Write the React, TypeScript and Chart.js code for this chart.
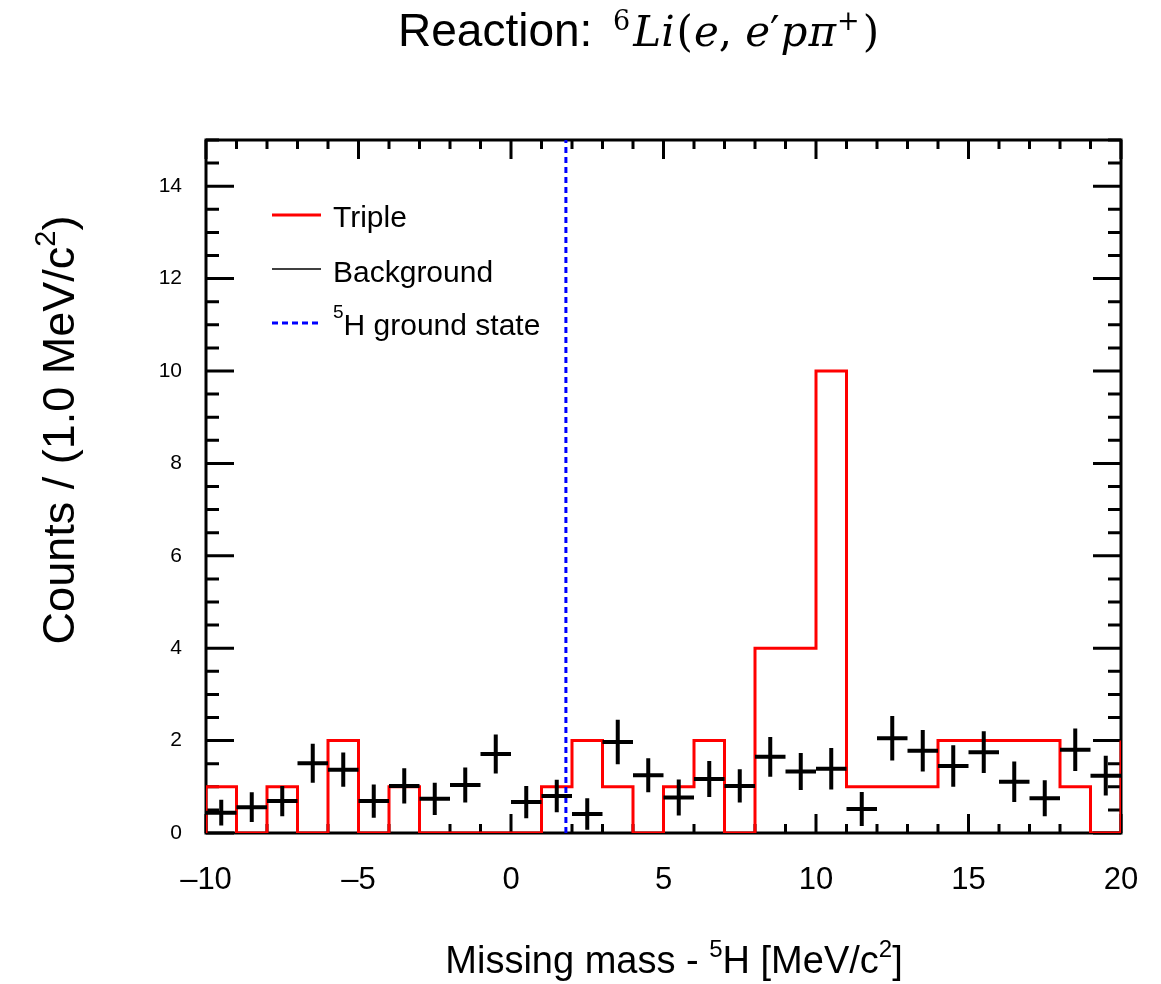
import React, { useEffect, useRef } from "react";
import { Chart, registerables } from "chart.js";

Chart.register(...registerables);

// ---------------- data ----------------
const binLowEdges = [
  -10, -9, -8, -7, -6, -5, -4, -3, -2, -1, 0, 1, 2, 3, 4, 5, 6, 7, 8, 9, 10, 11, 12, 13, 14, 15, 16, 17, 18, 19,
];
const binWidth = 1;
const tripleCounts = [
  1, 0, 1, 0, 2, 0, 1, 0, 0, 0, 0, 1, 2, 1, 0, 1, 2, 0, 4, 4, 10, 1, 1, 1, 2, 2, 2, 2, 1, 0,
];
const tripleOverflow = 2;

const bgCenters = [
  -9.5, -8.5, -7.5, -6.5, -5.5, -4.5, -3.5, -2.5, -1.5, -0.5, 0.5, 1.5, 2.5, 3.5, 4.5, 5.5, 6.5, 7.5, 8.5, 9.5,
  10.5, 11.5, 12.5, 13.5, 14.5, 15.5, 16.5, 17.5, 18.5, 19.5,
];
const bgValues = [
  0.44, 0.56, 0.69, 1.51, 1.37, 0.69, 1.02, 0.74, 1.04, 1.71, 0.67, 0.8, 0.41, 1.97, 1.25, 0.77, 1.17, 1.02, 1.65,
  1.33, 1.39, 0.52, 2.05, 1.78, 1.45, 1.75, 1.11, 0.75, 1.8, 1.24,
];
const bgErrors = [
  0.28, 0.32, 0.33, 0.42, 0.37, 0.36, 0.38, 0.35, 0.38, 0.42, 0.35, 0.35, 0.34, 0.48, 0.37, 0.39, 0.39, 0.36, 0.43,
  0.4, 0.45, 0.37, 0.48, 0.45, 0.45, 0.45, 0.44, 0.39, 0.46, 0.43,
];
const bgHalfWidth = 0.5;

const groundStateX = 1.8;

const xMin = -10;
const xMax = 20;
const yMin = 0;
const yMax = 15;
const xTickValues = [-10, -5, 0, 5, 10, 15, 20];
const xTickLabels = ["\u201310", "\u20135", "0", "5", "10", "15", "20"];
const yTickValues = [0, 2, 4, 6, 8, 10, 12, 14];
const yTickLabels = ["0", "2", "4", "6", "8", "10", "12", "14"];
const xMajorStep = 5;
const xMinorStep = 1;
const yMajorStep = 2;
const yMinorStep = 0.5;

const legendLabels = ["Triple", "Background", "H ground state"];

// ---------------- helpers ----------------
const SANS = "'Liberation Sans', Arial, Helvetica, sans-serif";
const MATH = "'DejaVu Serif', 'Liberation Serif', serif";

type Seg = { t: string; font: string; dy?: number; gap?: number };

function drawSegs(ctx: CanvasRenderingContext2D, segs: Seg[], x: number, y: number, align: "left" | "center") {
  let w = 0;
  for (const s of segs) {
    ctx.font = s.font;
    w += ctx.measureText(s.t).width + (s.gap || 0);
  }
  let cx = align === "center" ? x - w / 2 : x;
  ctx.textAlign = "left";
  ctx.textBaseline = "alphabetic";
  for (const s of segs) {
    ctx.font = s.font;
    ctx.fillText(s.t, cx, y + (s.dy || 0));
    cx += ctx.measureText(s.t).width + (s.gap || 0);
  }
}

const framePlugin = {
  id: "rootFrame",
  beforeDatasetsDraw(chart: any) {
    const ctx: CanvasRenderingContext2D = chart.ctx;
    const { left, right, top, bottom } = chart.chartArea;
    const xs = chart.scales.x;
    const ys = chart.scales.y;
    ctx.save();
    ctx.strokeStyle = "#000";
    ctx.lineWidth = 3;
    ctx.strokeRect(left, top, right - left, bottom - top);
    ctx.beginPath();
    for (let v = xMin; v <= xMax + 1e-9; v += xMinorStep) {
      const px = xs.getPixelForValue(v);
      const len = Math.abs(v % xMajorStep) < 1e-9 ? 19 : 9;
      ctx.moveTo(px, bottom);
      ctx.lineTo(px, bottom - len);
      ctx.moveTo(px, top);
      ctx.lineTo(px, top + len);
    }
    for (let v = yMin; v <= yMax + 1e-9; v += yMinorStep) {
      const py = ys.getPixelForValue(v);
      const len = Math.abs(v % yMajorStep) < 1e-9 ? 28 : 13;
      ctx.moveTo(left, py);
      ctx.lineTo(left + len, py);
      ctx.moveTo(right, py);
      ctx.lineTo(right - len, py);
    }
    ctx.stroke();
    ctx.restore();
  },
  afterDatasetsDraw(chart: any) {
    const ctx: CanvasRenderingContext2D = chart.ctx;
    const xs = chart.scales.x;
    const ys = chart.scales.y;
    ctx.save();
    ctx.strokeStyle = "#000";
    ctx.lineWidth = 4;
    ctx.lineCap = "butt";
    ctx.beginPath();
    bgCenters.forEach((c, i) => {
      const v = bgValues[i];
      const e = bgErrors[i];
      const py = ys.getPixelForValue(v);
      const px = xs.getPixelForValue(c);
      ctx.moveTo(xs.getPixelForValue(c - bgHalfWidth), py);
      ctx.lineTo(xs.getPixelForValue(c + bgHalfWidth), py);
      ctx.moveTo(px, ys.getPixelForValue(v - e));
      ctx.lineTo(px, ys.getPixelForValue(v + e));
    });
    ctx.stroke();
    ctx.restore();
  },
  afterDraw(chart: any) {
    const ctx: CanvasRenderingContext2D = chart.ctx;
    ctx.save();
    ctx.fillStyle = "#000";

    // Title
    const tf = `46px ${SANS}`;
    const mi = `italic 42px ${MATH}`;
    const mu = `42px ${MATH}`;
    const ms = `27px ${MATH}`;
    drawSegs(
      ctx,
      [
        { t: "Reaction: ", font: tf, gap: 8 },
        { t: "6", font: ms, dy: -16, gap: 3 },
        { t: "Li", font: mi, gap: 2 },
        { t: "(", font: mu, gap: 1 },
        { t: "e", font: mi },
        { t: ",", font: mu, gap: 13 },
        { t: "e", font: mi },
        { t: "\u2032", font: mu, gap: 1 },
        { t: "p", font: mi, gap: 1 },
        { t: "\u03C0", font: mi, gap: 1 },
        { t: "+", font: ms, dy: -16, gap: 3 },
        { t: ")", font: mu },
      ],
      398,
      46,
      "left"
    );

    // X axis title
    drawSegs(
      ctx,
      [
        { t: "Missing mass - ", font: `38px ${SANS}` },
        { t: "5", font: `24px ${SANS}`, dy: -16 },
        { t: "H [MeV/c", font: `38px ${SANS}` },
        { t: "2", font: `24px ${SANS}`, dy: -16 },
        { t: "]", font: `38px ${SANS}` },
      ],
      674,
      973,
      "center"
    );

    // Y axis title
    ctx.save();
    ctx.translate(74, 430);
    ctx.rotate(-Math.PI / 2);
    drawSegs(
      ctx,
      [
        { t: "Counts / (1.0 MeV/c", font: `45px ${SANS}` },
        { t: "2", font: `29px ${SANS}`, dy: -19 },
        { t: ")", font: `45px ${SANS}` },
      ],
      0,
      0,
      "center"
    );
    ctx.restore();

    // Legend
    const lx0 = 272;
    const lx1 = 321;
    const tx = 333;
    ctx.lineCap = "butt";
    ctx.strokeStyle = "#ff0000";
    ctx.lineWidth = 3;
    ctx.beginPath();
    ctx.moveTo(lx0, 215);
    ctx.lineTo(lx1, 215);
    ctx.stroke();
    drawSegs(ctx, [{ t: legendLabels[0], font: `30px ${SANS}` }], tx, 227, "left");
    ctx.strokeStyle = "#000";
    ctx.lineWidth = 1.3;
    ctx.beginPath();
    ctx.moveTo(lx0, 269);
    ctx.lineTo(lx1, 269);
    ctx.stroke();
    drawSegs(ctx, [{ t: legendLabels[1], font: `30px ${SANS}` }], tx, 282, "left");
    ctx.strokeStyle = "#0000ff";
    ctx.lineWidth = 3;
    ctx.setLineDash([6, 4]);
    ctx.beginPath();
    ctx.moveTo(lx0, 323);
    ctx.lineTo(lx1, 323);
    ctx.stroke();
    ctx.setLineDash([]);
    drawSegs(
      ctx,
      [
        { t: "5", font: `19px ${SANS}`, dy: -17 },
        { t: legendLabels[2], font: `30px ${SANS}` },
      ],
      tx,
      335,
      "left"
    );
    ctx.restore();
  },
};

export default function App() {
  const canvasRef = useRef<HTMLCanvasElement | null>(null);

  useEffect(() => {
    if (!canvasRef.current) return;
    const tripleData = [
      { x: binLowEdges[0], y: 0 },
      ...binLowEdges.map((x, i) => ({ x, y: tripleCounts[i] })),
      { x: binLowEdges[binLowEdges.length - 1] + binWidth, y: tripleOverflow },
    ];
    const chart = new Chart(canvasRef.current, {
      type: "scatter",
      data: {
        datasets: [
          {
            label: "Background",
            data: bgCenters.map((x, i) => ({ x, y: bgValues[i] })),
            pointRadius: 0,
            showLine: false,
            borderColor: "#000",
            backgroundColor: "#000",
          },
          {
            label: "5H ground state",
            data: [
              { x: groundStateX, y: yMin },
              { x: groundStateX, y: yMax },
            ],
            showLine: true,
            borderColor: "#0000ff",
            borderWidth: 3,
            borderDash: [6, 4],
            pointRadius: 0,
          },
          {
            label: "Triple",
            data: tripleData,
            showLine: true,
            stepped: "before",
            borderColor: "#ff0000",
            borderWidth: 3,
            pointRadius: 0,
            fill: false,
          },
        ],
      } as any,
      options: {
        animation: false,
        responsive: false,
        devicePixelRatio: 1,
        events: [],
        layout: { padding: { top: 140, right: 40, left: 0, bottom: 0 } },
        plugins: {
          legend: { display: false },
          title: { display: false },
          tooltip: { enabled: false },
        },
        scales: {
          x: {
            type: "linear",
            min: xMin,
            max: xMax,
            grid: { display: false, drawTicks: false },
            border: { display: false },
            afterFit: (s: any) => {
              s.height = 151;
              s.paddingLeft = 0;
              s.paddingRight = 0;
            },
            afterBuildTicks: (s: any) => {
              s.ticks = xTickValues.map((v) => ({ value: v }));
            },
            ticks: {
              padding: 29,
              color: "#000",
              font: { family: SANS, size: 31 },
              maxRotation: 0,
              autoSkip: false,
              callback: (v: any) => xTickLabels[xTickValues.indexOf(Number(v))] ?? "",
            },
          },
          y: {
            type: "linear",
            min: yMin,
            max: yMax,
            grid: { display: false, drawTicks: false },
            border: { display: false },
            afterFit: (s: any) => {
              s.width = 206;
              s.paddingTop = 0;
              s.paddingBottom = 0;
            },
            afterBuildTicks: (s: any) => {
              s.ticks = yTickValues.map((v) => ({ value: v }));
            },
            ticks: {
              padding: 24,
              color: "#000",
              font: { family: SANS, size: 21 },
              autoSkip: false,
              callback: (v: any) => yTickLabels[yTickValues.indexOf(Number(v))] ?? "",
            },
          },
        },
      } as any,
      plugins: [framePlugin],
    });
    return () => chart.destroy();
  }, []);

  return (
    <div style={{ position: "absolute", left: 0, top: 0, width: 1161, height: 984, background: "#fff" }}>
      <canvas ref={canvasRef} width={1161} height={984} style={{ width: 1161, height: 984 }} />
    </div>
  );
}
